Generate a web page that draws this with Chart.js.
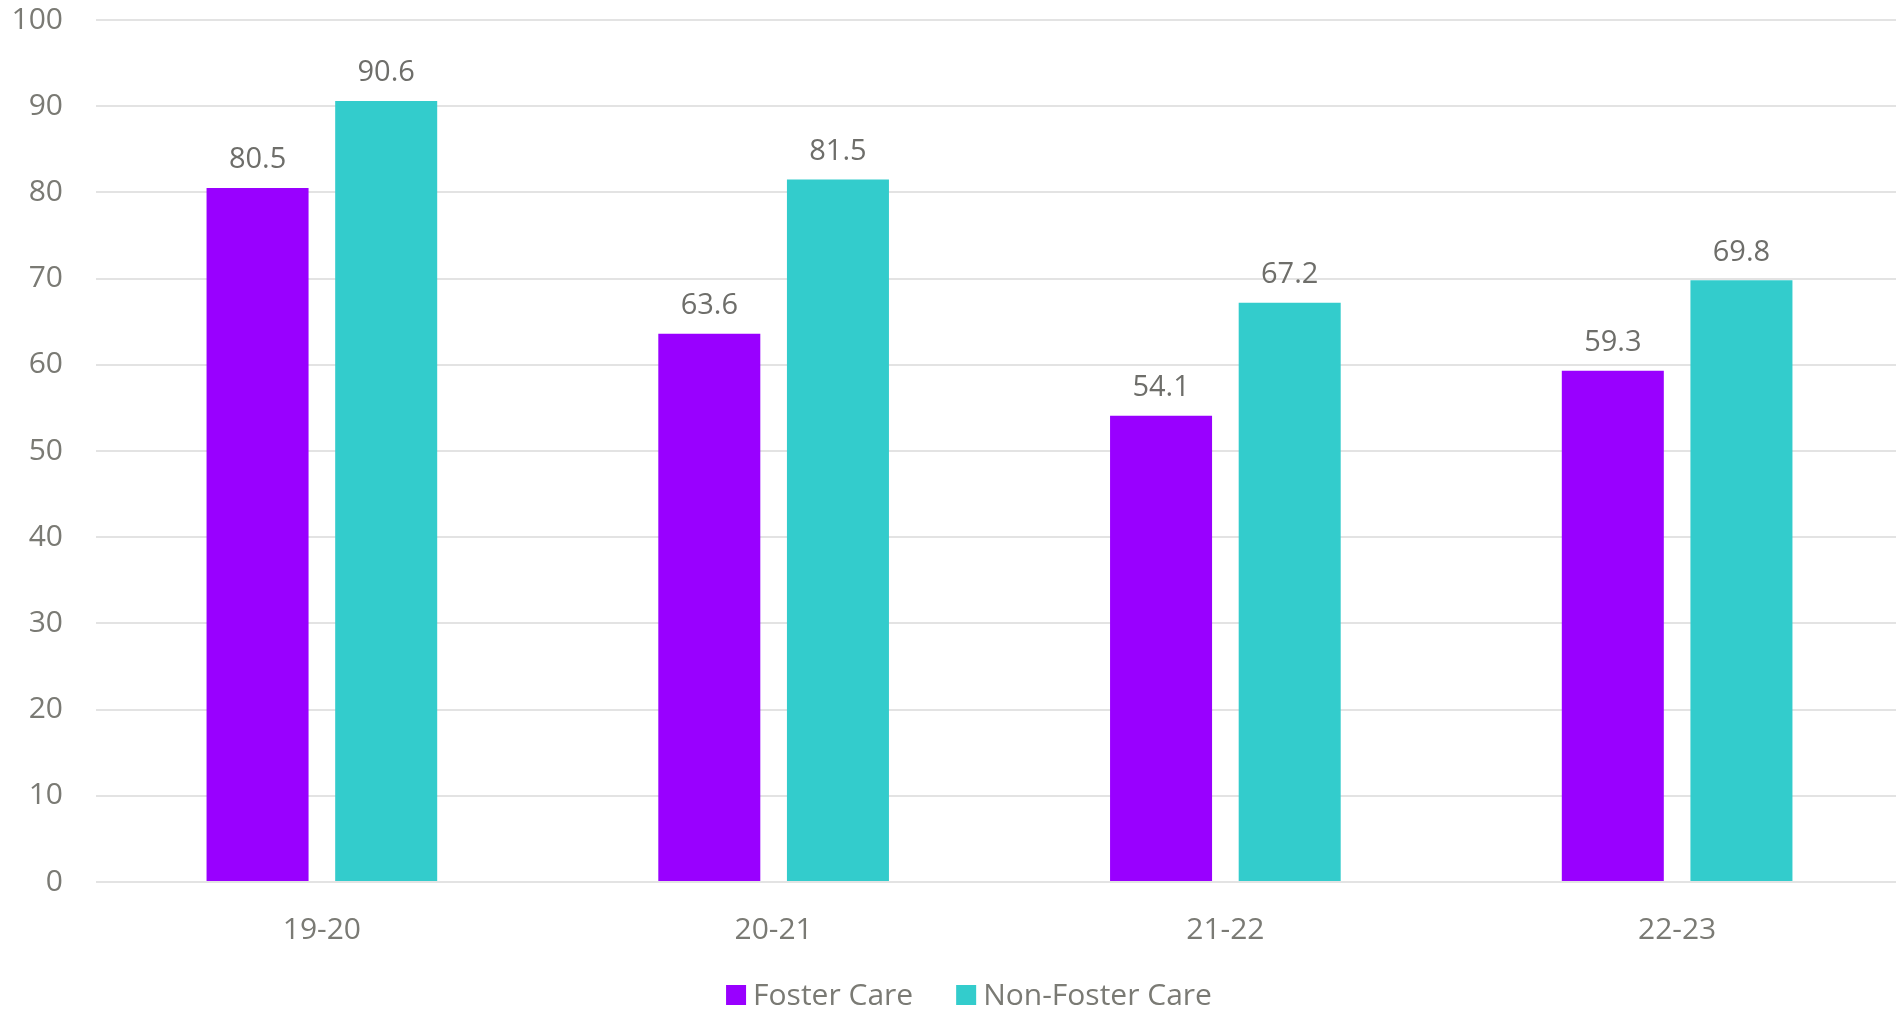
<!DOCTYPE html>
<html>
<head>
<meta charset="utf-8">
<script src="https://cdn.jsdelivr.net/npm/chart.js@4/dist/chart.umd.min.js"></script>
<style>
  html, body { margin: 0; padding: 0; background: #ffffff; overflow: hidden; }
  #wrap { width: 1896px; height: 1017px; position: relative; overflow: hidden; }
  #c { display: block; }
</style>
</head>
<body>
<div id="wrap"><canvas id="c" width="1903" height="1017"></canvas></div>
<script>
const categories = ["19-20", "20-21", "21-22", "22-23"];
const fosterCare = [80.5, 63.6, 54.1, 59.3];
const nonFosterCare = [90.6, 81.5, 67.2, 69.8];
const seriesNames = ["Foster Care", "Non-Foster Care"];
const seriesColors = ["#9900FF", "#33CCCC"];

const FONT = '"Open Sans", "Noto Sans", sans-serif';
const TEXT = '#7a7a74';

const valueLabels = {
  id: 'valueLabels',
  afterDatasetsDraw(chart) {
    const ctx = chart.ctx;
    ctx.save();
    ctx.font = '29px ' + FONT;
    ctx.fillStyle = '#6e6e6a';
    ctx.textAlign = 'center';
    ctx.textBaseline = 'middle';
    chart.data.datasets.forEach((ds, i) => {
      const meta = chart.getDatasetMeta(i);
      meta.data.forEach((el, j) => {
        ctx.fillText(ds.data[j].toFixed(1), el.x, el.y - 28);
      });
    });
    ctx.restore();
  }
};

const bottomLegend = {
  id: 'bottomLegend',
  afterDraw(chart) {
    const ctx = chart.ctx;
    ctx.save();
    ctx.font = '30px ' + FONT;
    ctx.textBaseline = 'middle';
    ctx.textAlign = 'left';
    const box = 20, gapText = 7, gapItem = 43, cy = 995, cx = 969;
    const items = chart.data.datasets.map(ds => ({ text: ds.label, color: ds.backgroundColor, w: ctx.measureText(ds.label).width }));
    let total = 0;
    items.forEach((it, i) => { total += box + gapText + it.w + (i < items.length - 1 ? gapItem : 0); });
    let x = cx - total / 2;
    items.forEach(it => {
      ctx.fillStyle = it.color;
      ctx.fillRect(x, cy - box / 2, box, box);
      x += box + gapText;
      ctx.fillStyle = TEXT;
      ctx.fillText(it.text, x, cy + 1);
      x += it.w + gapItem;
    });
    ctx.restore();
  }
};

new Chart(document.getElementById('c'), {
  type: 'bar',
  data: {
    labels: categories,
    datasets: [
      { label: seriesNames[0], data: fosterCare, backgroundColor: seriesColors[0],
        categoryPercentage: 0.5695, barPercentage: 0.793 },
      { label: seriesNames[1], data: nonFosterCare, backgroundColor: seriesColors[1],
        categoryPercentage: 0.5695, barPercentage: 0.793 }
    ]
  },
  options: {
    responsive: false,
    animation: false,
    layout: { padding: { left: 0, right: 0, top: 20, bottom: 0 } },
    scales: {
      x: {
        grid: { display: false, drawTicks: false },
        border: { display: false },
        ticks: { color: TEXT, font: { family: FONT, size: 30 }, padding: 30 },
        afterFit(s) { s.height = 135; s.paddingLeft = 0; s.paddingRight = 0; }
      },
      y: {
        min: 0, max: 100,
        ticks: { stepSize: 10, color: TEXT, font: { family: FONT, size: 30 }, padding: 33 },
        grid: { color: '#e3e3e3', lineWidth: 2, drawTicks: false },
        border: { display: false },
        afterFit(s) { s.width = 96; s.paddingTop = 0; s.paddingBottom = 0; }
      }
    },
    plugins: {
      legend: { display: false },
      tooltip: { enabled: false }
    }
  },
  plugins: [valueLabels, bottomLegend]
});
</script>
</body>
</html>
